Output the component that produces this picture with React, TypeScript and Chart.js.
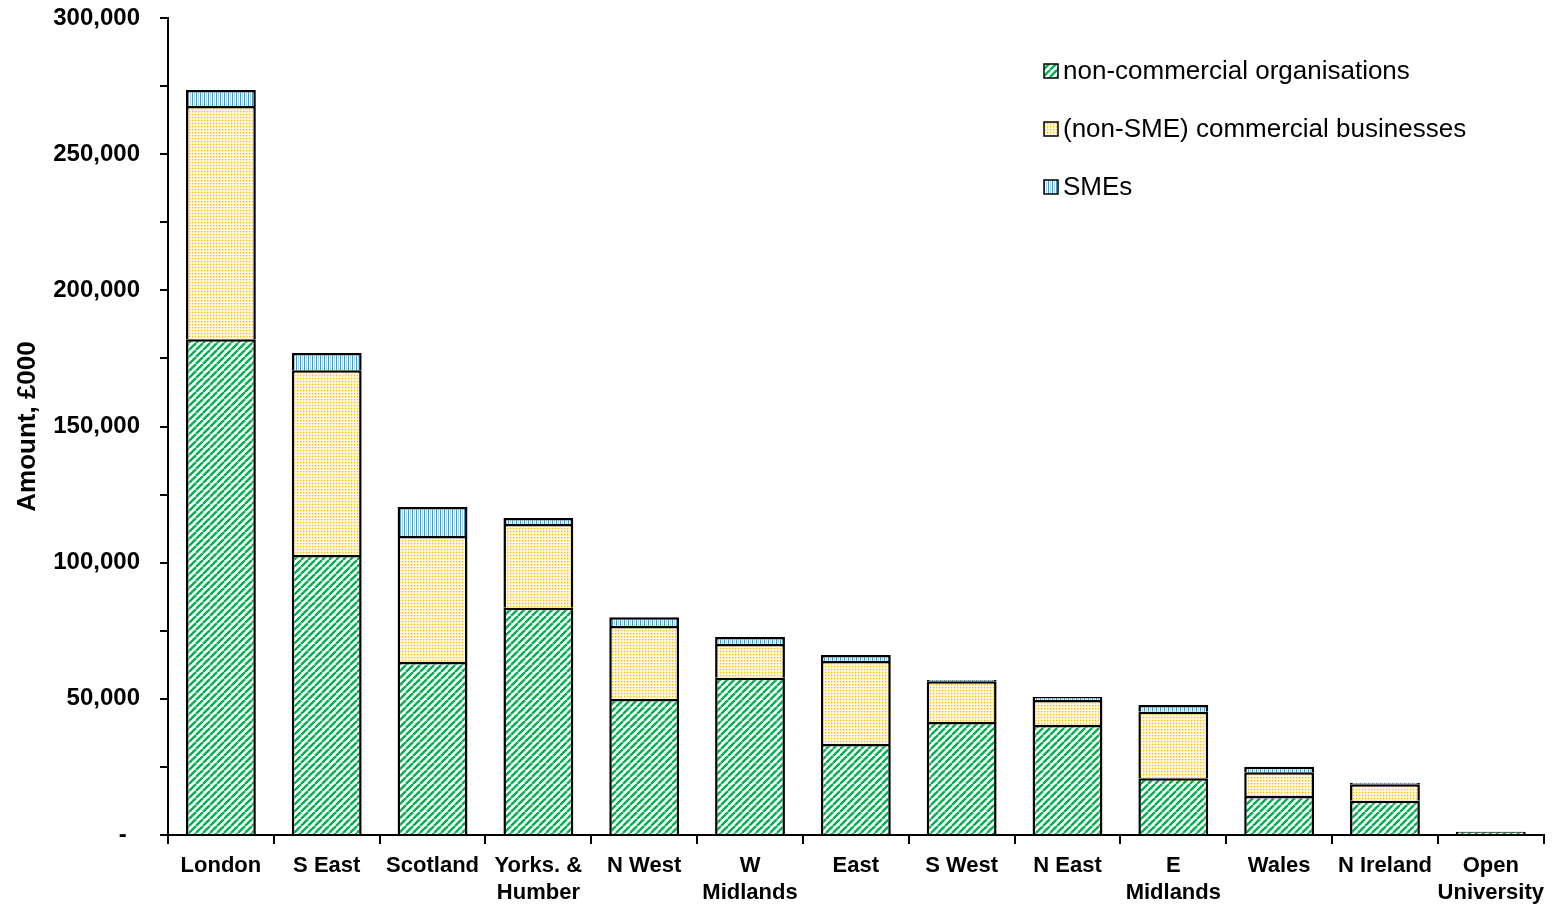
import React, { useEffect, useRef } from "react";
import { Chart, registerables } from "chart.js";
Chart.register(...registerables);

const categories: (string | string[])[] = [
  "London", "S East", "Scotland", ["Yorks. &", "Humber"], "N West", ["W", "Midlands"],
  "East", "S West", "N East", ["E", "Midlands"], "Wales", "N Ireland", ["Open", "University"],
];
const nonCommercial = [182000, 102800, 63500, 83400, 49900, 57700, 33400, 41500, 40400, 20800, 14300, 12600, 1200];
const nonSME = [85700, 67900, 46300, 30800, 26800, 12400, 30500, 15000, 9200, 24500, 8700, 6000, null];
const smes = [5900, 6300, 10600, 2200, 3300, 2600, 2200, 400, 1100, 2400, 2100, 600, null];
const seriesLabels = ["non-commercial organisations", "(non-SME) commercial businesses", "SMEs"];
const yMin = 0;
const yMax = 300000;
const yStep = 25000;
const yLabelStep = 50000;
const yTitle = "Amount, £000";

const FONT = "'Liberation Sans', Arial, sans-serif";

function tile(w: number, h: number, draw: (g: CanvasRenderingContext2D) => void): CanvasPattern {
  const c = document.createElement("canvas");
  c.width = w;
  c.height = h;
  const g = c.getContext("2d")!;
  draw(g);
  return g.createPattern(c, "repeat")!;
}

function greenStripes() {
  return tile(7, 7, (g) => {
    g.fillStyle = "#ffffff";
    g.fillRect(0, 0, 7, 7);
    g.strokeStyle = "#00B050";
    g.lineWidth = 2.4;
    for (const k of [-7, 0, 7]) {
      g.beginPath();
      g.moveTo(k, 7);
      g.lineTo(k + 7, 0);
      g.stroke();
    }
  });
}

function yellowDots() {
  return tile(6, 6, (g) => {
    g.fillStyle = "#FFF7DD";
    g.fillRect(0, 0, 6, 6);
    g.fillStyle = "#FFE08A";
    for (const [x, y] of [[1, 0], [4, 0], [0, 1], [3, 1], [1, 3], [4, 3], [0, 4], [3, 4]]) g.fillRect(x, y, 1, 1);
    g.fillStyle = "#FFC000";
    for (const [x, y] of [[0, 0], [3, 0], [0, 3], [3, 3]]) g.fillRect(x, y, 1, 1);
  });
}

function blueStripes() {
  return tile(4, 4, (g) => {
    g.fillStyle = "#ffffff";
    g.fillRect(0, 0, 4, 4);
    g.fillStyle = "#00B0F0";
    g.fillRect(0, 0, 1, 4);
    g.fillStyle = "#9AD8F6";
    g.fillRect(2, 0, 1, 4);
  });
}

export default function App() {
  const ref = useRef<HTMLCanvasElement>(null);
  useEffect(() => {
    document.body.style.margin = "0";
    const canvas = ref.current!;
    const fills = [greenStripes(), yellowDots(), blueStripes()];
    const values = [nonCommercial, nonSME, smes];

    const legendPlugin = {
      id: "customLegend",
      afterDraw(chart: any) {
        const ctx = chart.ctx as CanvasRenderingContext2D;
        ctx.save();
        chart.data.datasets.forEach((ds: any, i: number) => {
          const cy = 71 + i * 58;
          ctx.fillStyle = ds.backgroundColor;
          ctx.fillRect(1044, cy - 7, 14, 14);
          ctx.strokeStyle = "#000";
          ctx.lineWidth = 1.5;
          ctx.strokeRect(1044, cy - 7, 14, 14);
          ctx.fillStyle = "#000";
          ctx.font = `26px ${FONT}`;
          ctx.textBaseline = "middle";
          ctx.textAlign = "left";
          ctx.fillText(ds.label, 1063, cy + 1);
        });
        ctx.restore();
      },
    };

    const chart = new Chart(canvas, {
      type: "bar",
      data: {
        labels: categories,
        datasets: values.map((v, i) => ({
          label: seriesLabels[i],
          data: v,
          backgroundColor: fills[i],
          borderColor: "#000",
          borderWidth: 2.5,
          borderSkipped: "start",
          inflateAmount: 0,
          barPercentage: 0.66,
          categoryPercentage: 1,
        })),
      },
      options: {
        responsive: false,
        animation: false,
        devicePixelRatio: 1,
        layout: { padding: { top: 18, right: 1, left: 0, bottom: 0 } },
        plugins: { legend: { display: false }, tooltip: { enabled: false } },
        scales: {
          x: {
            stacked: true,
            grid: { offset: true, drawOnChartArea: false, color: "#000", lineWidth: 2, tickLength: 9 },
            border: { color: "#000", width: 2, z: 1 },
            ticks: {
              color: "#000",
              font: { family: FONT, size: 22, weight: "bold", lineHeight: 1.22 },
              maxRotation: 0,
              autoSkip: false,
              padding: 9,
            },
            afterFit: (s: any) => {
              s.height = 70;
            },
          },
          y: {
            stacked: true,
            min: yMin,
            max: yMax,
            ticks: {
              stepSize: yStep,
              color: "#000",
              font: { family: FONT, size: 24, weight: "bold" },
              padding: 20,
              callback: (v: any) =>
                v === 0 ? "-  " : v % yLabelStep === 0 ? Number(v).toLocaleString("en-US") : "",
            },
            grid: { drawOnChartArea: false, color: "#000", lineWidth: 2, tickLength: 8 },
            border: { color: "#000", width: 2 },
            title: {
              display: true,
              text: yTitle,
              color: "#000",
              font: { family: FONT, size: 26, weight: "bold" },
              padding: { top: 12, bottom: 0 },
            },
            afterFit: (s: any) => {
              s.width = 168;
              s.paddingTop = 0;
              s.paddingBottom = 0;
            },
          },
        },
      },
      plugins: [legendPlugin],
    });
    return () => chart.destroy();
  }, []);
  return <canvas ref={ref} width={1553} height={905} style={{ display: "block" }} />;
}
